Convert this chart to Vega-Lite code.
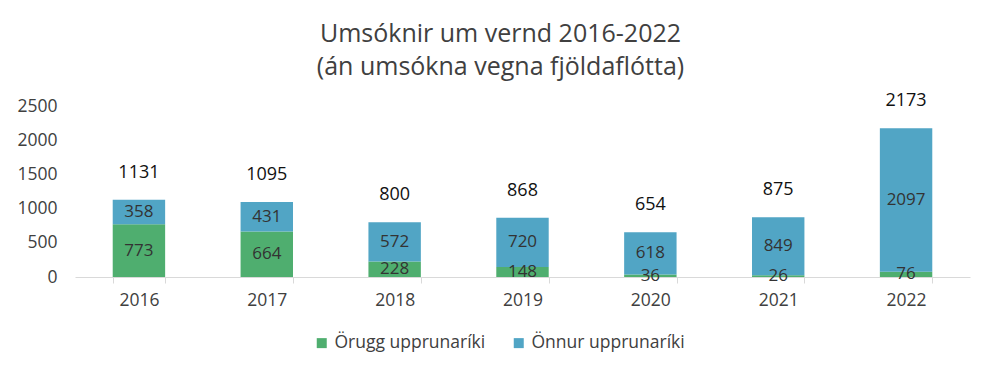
{
  "$schema": "https://vega.github.io/schema/vega-lite/v6.json",
  "width": 895,
  "height": 171,
  "autosize": {"type": "none"},
  "padding": {"left": 75, "top": 106, "right": 30, "bottom": 99},
  "background": "white",
  "config": {
    "font": "Open Sans",
    "view": {"stroke": null},
    "axisY": {
      "labelOverlap": false,
      "grid": false, "domain": false, "ticks": false,
      "labelFontSize": 17.5, "labelColor": "#404040", "labelPadding": 18,
      "labelFont": "Open Sans", "format": "d", "title": null
    }
  },
  "title": {
    "text": ["Umsóknir um vernd 2016-2022", "(án umsókna vegna fjöldaflótta)"],
    "fontSize": 25,
    "font": "Open Sans",
    "fontWeight": "normal",
    "color": "#404040",
    "anchor": "middle",
    "dx": -22,
    "offset": 12,
    "lineHeight": 33
  },
  "data": {
    "values": [
      {"year": "2016", "group": "Örugg upprunaríki", "value": 773},
      {"year": "2016", "group": "Önnur upprunaríki", "value": 358},
      {"year": "2017", "group": "Örugg upprunaríki", "value": 664},
      {"year": "2017", "group": "Önnur upprunaríki", "value": 431},
      {"year": "2018", "group": "Örugg upprunaríki", "value": 228},
      {"year": "2018", "group": "Önnur upprunaríki", "value": 572},
      {"year": "2019", "group": "Örugg upprunaríki", "value": 148},
      {"year": "2019", "group": "Önnur upprunaríki", "value": 720},
      {"year": "2020", "group": "Örugg upprunaríki", "value": 36},
      {"year": "2020", "group": "Önnur upprunaríki", "value": 618},
      {"year": "2021", "group": "Örugg upprunaríki", "value": 26},
      {"year": "2021", "group": "Önnur upprunaríki", "value": 849},
      {"year": "2022", "group": "Örugg upprunaríki", "value": 76},
      {"year": "2022", "group": "Önnur upprunaríki", "value": 2097}
    ]
  },
  "transform": [
    {"calculate": "datum.group === 'Örugg upprunaríki' ? 0 : 1", "as": "ord"}
  ],
  "layer": [
    {
      "mark": {"type": "bar"},
      "encoding": {
        "x": {
          "field": "year", "type": "nominal", "title": null,
          "scale": {"paddingInner": 0.59, "paddingOuter": 0.295},
          "axis": {
            "labelAngle": 0, "labelFontSize": 17.5, "labelColor": "#404040",
            "domainColor": "#d9d9d9", "tickColor": "#d9d9d9", "tickBand": "extent",
            "tickSize": 6, "labelPadding": 8, "labelFont": "Open Sans"
          }
        },
        "y": {
          "field": "value", "type": "quantitative", "stack": "zero", "title": null,
          "scale": {"domain": [0, 2500], "nice": false},
          "axis": {"values": [0, 500, 1000, 1500, 2000, 2500]}
        },
        "color": {
          "field": "group", "type": "nominal",
          "scale": {"domain": ["Örugg upprunaríki", "Önnur upprunaríki"], "range": ["#4fae6f", "#51a5c5"]},
          "legend": {
            "title": null, "orient": "none", "direction": "horizontal",
            "legendX": 238, "legendY": 228,
            "symbolType": "square", "symbolSize": 100, "symbolStrokeWidth": 0,
            "labelFontSize": 17.5, "labelColor": "#404040", "labelFont": "Open Sans",
            "columnPadding": 24, "labelOffset": 4, "labelLimit": 300
          }
        },
        "order": {"field": "ord", "type": "quantitative"}
      }
    },
    {
      "transform": [
        {"stack": "value", "groupby": ["year"], "sort": [{"field": "ord"}], "as": ["v0", "v1"]},
        {"calculate": "(datum.v0 + datum.v1) / 2", "as": "mid"}
      ],
      "mark": {"type": "text", "fontSize": 17, "color": "#333333", "baseline": "middle", "font": "Open Sans"},
      "encoding": {
        "x": {"field": "year", "type": "nominal"},
        "y": {"field": "mid", "type": "quantitative", "title": null, "scale": {"domain": [0, 2500], "nice": false}, "axis": {"values": [0, 500, 1000, 1500, 2000, 2500]}},
        "text": {"field": "value", "type": "quantitative"}
      }
    },
    {
      "transform": [
        {"aggregate": [{"op": "sum", "field": "value", "as": "total"}], "groupby": ["year"]}
      ],
      "mark": {"type": "text", "fontSize": 18, "color": "#111111", "baseline": "middle", "dy": -27, "font": "Open Sans"},
      "encoding": {
        "x": {"field": "year", "type": "nominal"},
        "y": {"field": "total", "type": "quantitative", "title": null, "scale": {"domain": [0, 2500], "nice": false}, "axis": {"values": [0, 500, 1000, 1500, 2000, 2500]}},
        "text": {"field": "total", "type": "quantitative"}
      }
    }
  ]
}
